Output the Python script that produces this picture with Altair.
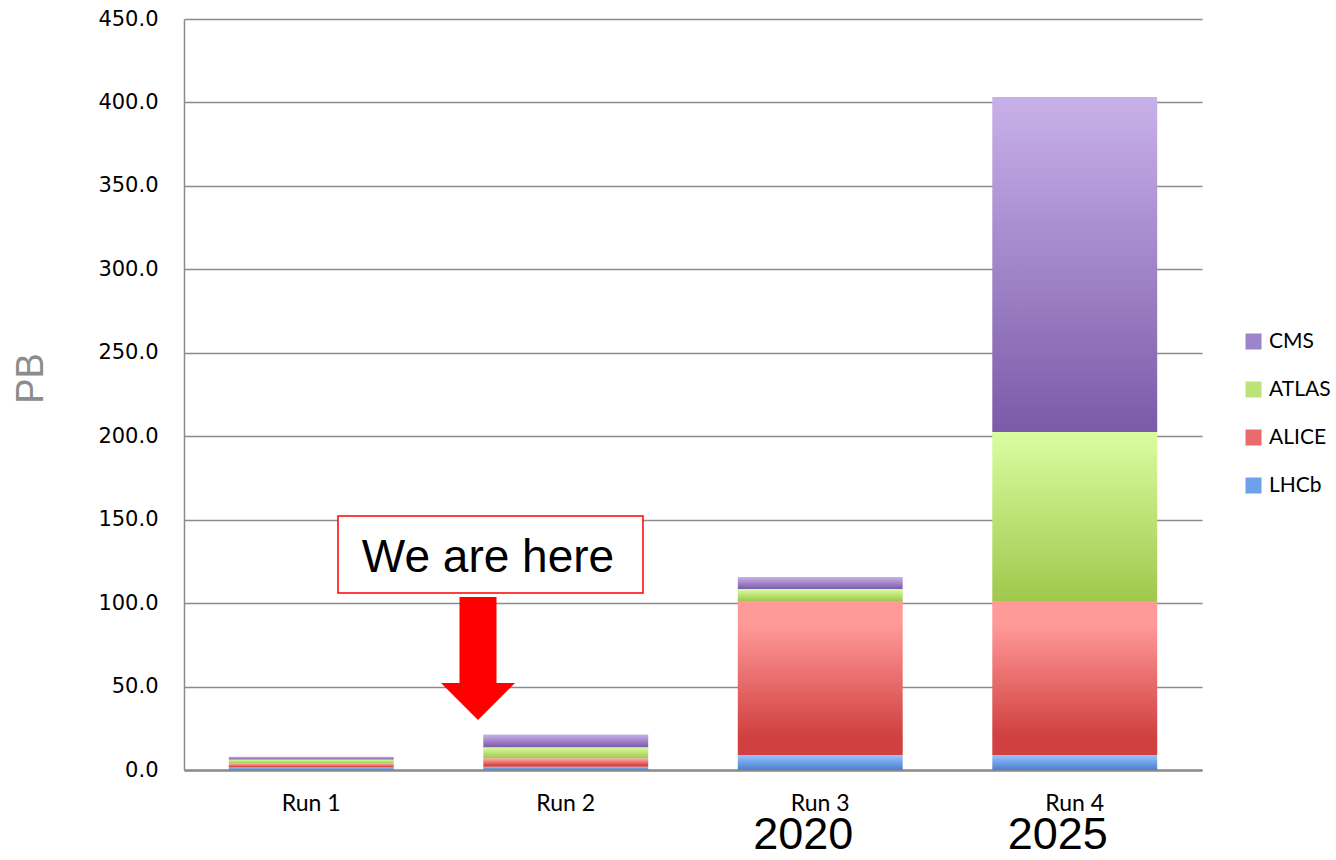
import altair as alt
import pandas as pd

runs = ["Run 1", "Run 2", "Run 3", "Run 4"]
series_order = ["CMS", "ATLAS", "ALICE", "LHCb"]   # legend order (top to bottom)
stack_order = ["LHCb", "ALICE", "ATLAS", "CMS"]    # bottom to top
lhcb = [1.5, 2.0, 9.0, 9.0]
alice = [2.4, 5.0, 92.3, 92.3]
atlas = [2.4, 6.6, 7.1, 101.2]
cms = [1.6, 7.6, 7.2, 200.7]
years = ["", "", "2020", "2025"]
y_ticks = [0, 50, 100, 150, 200, 250, 300, 350, 400, 450]
note_text = "We are here"

values = {"LHCb": lhcb, "ALICE": alice, "ATLAS": atlas, "CMS": cms}
rows = []
for s in stack_order:
    for r, v in zip(runs, values[s]):
        rows.append({"run": r, "series": s, "value": v, "order": stack_order.index(s)})
df = pd.DataFrame(rows)

# gradient colours (top, bottom)
grad_colors = {
    "CMS": ["#c8b1ea", "#7b5aa8"],
    "ATLAS": ["#dbfda1", "#9fc84c"],
    "ALICE": ["#ff9a98", "#d04040"],
    "LHCb": ["#98c4ff", "#4a7fd0"],
}
mid_colors = ["#9d82cc", "#bde27a", "#ea6c6a", "#6fa0ea"]


def grad(s):
    top, bot = grad_colors[s]
    stops = [{"offset": 0, "color": top}, {"offset": 1, "color": bot}]
    if s == "ALICE":
        stops = [{"offset": 0, "color": top}, {"offset": 0.15, "color": top},
                 {"offset": 0.88, "color": bot}, {"offset": 1, "color": bot}]
    return {"gradient": "linear", "x1": 0, "y1": 0, "x2": 0, "y2": 1, "stops": stops}


x_enc = alt.X(
    "run:N",
    sort=runs,
    title=None,
    scale=alt.Scale(paddingInner=0.352, paddingOuter=0.176),
    axis=alt.Axis(labelAngle=0, ticks=False, domainColor="#8c8c8c", domainWidth=2.5,
                  labelFont="Lato", labelFontSize=23, labelColor="black", labelPadding=22,
                  grid=False),
)
y_scale = alt.Scale(domain=[0, 450], nice=False)
y_axis = alt.Axis(values=y_ticks, format=".1f", grid=True, gridColor="#8c8c8c", gridWidth=1.5,
                  domainColor="#8c8c8c", domainWidth=1.5, ticks=False, labelPadding=26,
                  labelFont="DejaVu Sans", labelFontSize=21, labelColor="black",
                  title="PB", titleFont="Liberation Sans", titleFontSize=38,
                  titleFontWeight="normal", titleColor="#8c8c8c", titleAngle=270,
                  titleX=-142, titleY=359, titleAlign="center", titleBaseline="alphabetic")

base = alt.Chart(df).transform_stack(
    stack="value", groupby=["run"], as_=["y0", "y1"], sort=[alt.SortField("order")]
)

layers = []
for s in stack_order:
    layers.append(
        base.transform_filter(alt.datum.series == s)
        .mark_bar(fill=grad(s), strokeWidth=0)
        .encode(x=x_enc, y=alt.Y("y1:Q", scale=y_scale, axis=y_axis), y2="y0:Q")
    )

# legend carrier (zero-height bars)
leg_df = pd.DataFrame({"series": series_order, "run": [runs[0]] * 4})
legend_layer = alt.Chart(leg_df).mark_bar(strokeWidth=0).encode(
    x=x_enc,
    y=alt.Y(datum=0, scale=y_scale),
    color=alt.Color(
        "series:N",
        scale=alt.Scale(domain=series_order, range=mid_colors),
        legend=alt.Legend(
            orient="none", legendX=1059, legendY=312, title=None, padding=0,
            symbolType="square", symbolSize=256, symbolStrokeWidth=0,
            labelFont="Lato", labelFontSize=21, labelColor="black",
            rowPadding=26, labelOffset=5,
        ),
    ),
)

# year labels under Run 3 / Run 4
year_df = pd.DataFrame({"run": runs, "year": years})
year_layer = alt.Chart(year_df).mark_text(
    font="Liberation Sans", fontSize=45, color="black", baseline="alphabetic", dx=-17
).encode(x=x_enc, y=alt.value(830), text="year:N")

# "We are here" annotation
note_df = pd.DataFrame({"t": [note_text]})
box = alt.Chart(note_df).mark_rect(fill="white", stroke="#ff0000", strokeWidth=1.5).encode(
    x=alt.value(154), x2=alt.value(459), y=alt.value(497), y2=alt.value(574)
)
note = alt.Chart(note_df).mark_text(
    font="Liberation Sans", fontSize=46, color="black", baseline="alphabetic", align="center"
).encode(x=alt.value(304), y=alt.value(553), text="t:N")
arrow_path = "M -0.5 -1.66 L 0.5 -1.66 L 0.5 0.66 L 1 0.66 L 0 1.66 L -1 0.66 L -0.5 0.66 Z"
arrow = alt.Chart(note_df).mark_point(
    shape=arrow_path, filled=True, fill="#ff0000", stroke="#ff0000", strokeWidth=0,
    size=5476, opacity=1
).encode(x=alt.value(294), y=alt.value(639.5))

chart = alt.layer(*layers, legend_layer, year_layer, box, note, arrow).properties(
    width=1018, height=751,
    autosize=alt.AutoSizeParams(type="none"),
    padding={"left": 184, "top": 19, "right": 134, "bottom": 90},
    background="white",
).configure_view(strokeWidth=0)

chart.save("out.html", embed_options={"renderer": "svg", "actions": False})
